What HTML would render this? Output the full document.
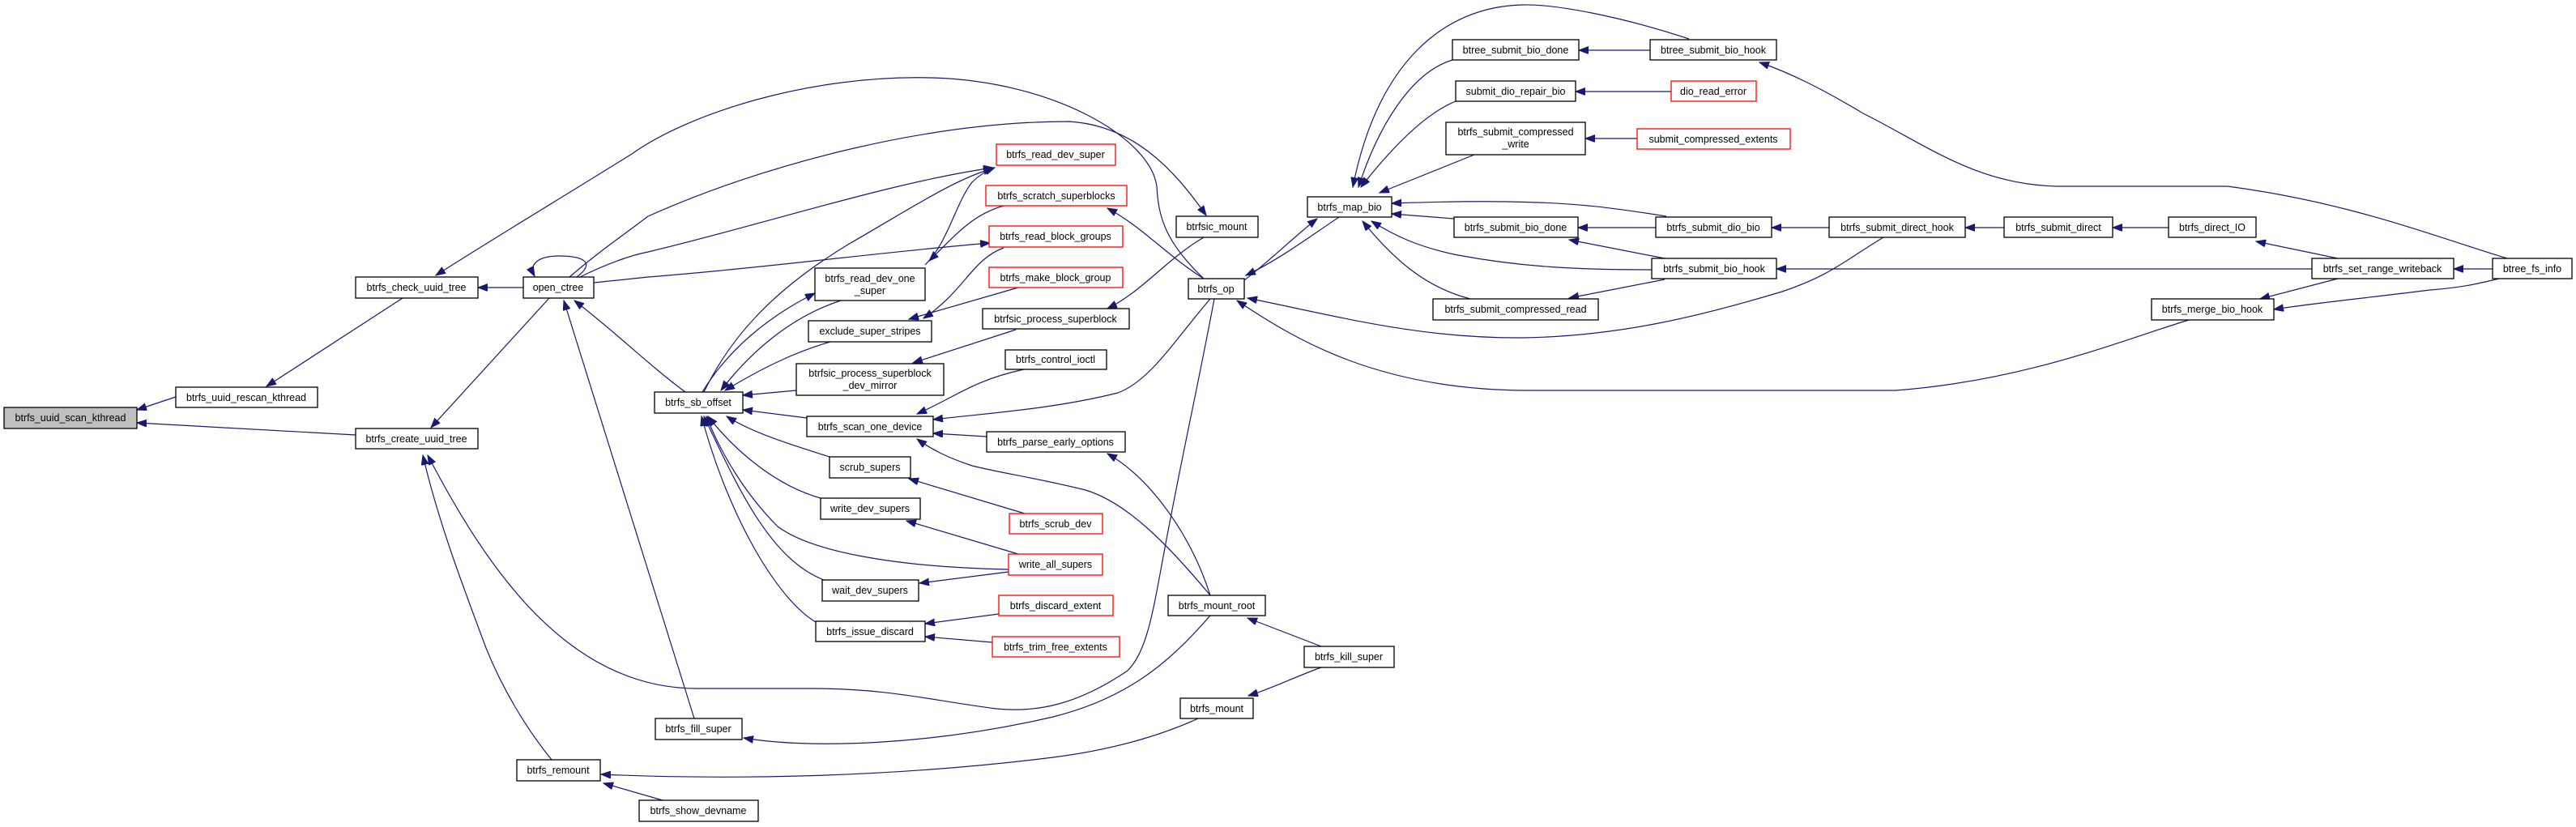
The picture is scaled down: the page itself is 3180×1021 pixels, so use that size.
<!DOCTYPE html>
<html><head><meta charset="utf-8"><style>
html,body{margin:0;padding:0;background:#fff;}
svg{display:block;}
text{font-family:"Liberation Sans",sans-serif;font-size:12.5px;fill:#000;text-anchor:middle;}
.n{fill:#fff;stroke:#000;stroke-width:1.3;}
.r{fill:#fff;stroke:#ff0000;stroke-width:1.3;}
.e{fill:none;stroke:#191970;stroke-width:1.2;marker-end:url(#a);}
</style></head><body>
<svg width="3180" height="1021" viewBox="0 0 3180 1021" xmlns="http://www.w3.org/2000/svg">
<defs><marker id="a" markerUnits="userSpaceOnUse" markerWidth="13" markerHeight="10" refX="12" refY="4.5" orient="auto"><path d="M0,0 L12,4.5 L0,9 z" fill="#191970" stroke="#191970"/></marker></defs>

<!-- edges -->
<path class="e" d="M217,490 L169,506"/>
<path class="e" d="M439,537 L169,522"/>
<path class="e" d="M497,368 L329,477"/>
<path class="e" d="M646,355 L590,355"/>
<path class="e" d="M678,368 L532,528"/>
<path class="e" d="M712,342 C735,325 722,316 690,316 C665,316 652,326 660,341"/>
<path class="e" d="M1486,344 C1440,300 1430,270 1428,230 C1420,170 1300,100 1150,96 C1000,92 850,140 780,190 C700,240 600,300 538,340"/>
<path class="e" d="M703,342 C740,310 770,290 800,267 C950,200 1150,150 1320,150 C1400,155 1450,210 1489,266"/>
<path class="e" d="M716,342 C750,325 780,315 800,311 C950,275 1100,225 1226,207"/>
<path class="e" d="M733,349 L800,342 C950,330 1100,310 1222,300"/>
<path class="e" d="M846,484 C800,450 760,410 709,371"/>
<path class="e" d="M857,887 L696,371"/>
<path class="e" d="M1499,369 C1480,470 1460,560 1445,640 C1425,740 1420,800 1392,828 C1330,870 1280,880 1230,875 C1150,865 1100,850 1000,850 L860,850 C700,850 600,700 528,562"/>
<path class="e" d="M681,938 C650,900 620,850 600,800 C570,720 540,640 522,562"/>
<path class="e" d="M1479,887 C1440,905 1380,925 1300,935 C1100,960 900,963 742,956"/>
<path class="e" d="M818,988 L745,967"/>
<path class="e" d="M1631,824 C1600,835 1570,850 1541,859"/>
<path class="e" d="M1631,798 L1540,763"/>
<path class="e" d="M1494,760 C1450,810 1400,860 1300,885 C1150,920 1000,925 918,911"/>
<path class="e" d="M1494,735 C1440,670 1390,620 1340,605 C1280,590 1240,585 1200,575 C1170,565 1150,555 1132,542"/>
<path class="e" d="M1494,735 C1470,660 1420,590 1367,560"/>
<path class="e" d="M1218,539 L1152,535"/>
<path class="e" d="M1264,456 C1200,470 1180,490 1132,511"/>
<path class="e" d="M1494,369 C1450,420 1420,470 1380,485 C1300,505 1220,510 1152,518"/>
<path class="e" d="M867,484 C900,430 950,390 1006,362"/>
<path class="e" d="M1038,371 C980,390 930,430 890,482"/>
<path class="e" d="M1025,422 C980,435 940,455 895,482"/>
<path class="e" d="M983,482 L917,488"/>
<path class="e" d="M996,516 L917,506"/>
<path class="e" d="M1024,564 C980,550 930,535 897,514"/>
<path class="e" d="M1013,615 C960,600 910,560 874,514"/>
<path class="e" d="M1245,703 C1100,700 1000,680 960,650 C920,610 890,560 872,514"/>
<path class="e" d="M1017,716 C950,690 910,600 869,514"/>
<path class="e" d="M1007,768 C960,740 900,640 866,514"/>
<path class="e" d="M869,484 C900,420 950,360 1050,300 C1120,260 1180,220 1226,208"/>
<path class="e" d="M1142,327 C1170,300 1180,250 1200,225 C1210,215 1220,210 1228,207"/>
<path class="e" d="M1239,254 C1200,265 1180,290 1147,322"/>
<path class="e" d="M1239,306 C1200,320 1190,360 1140,393"/>
<path class="e" d="M1257,355 L1122,394"/>
<path class="e" d="M1254,407 L1127,448"/>
<path class="e" d="M1486,293 C1440,320 1410,360 1367,381"/>
<path class="e" d="M1486,344 C1440,315 1410,280 1367,257"/>
<path class="e" d="M1265,634 L1122,591"/>
<path class="e" d="M1257,684 L1119,643"/>
<path class="e" d="M1245,706 L1135,720"/>
<path class="e" d="M1233,758 L1142,770"/>
<path class="e" d="M1225,793 L1142,786"/>
<path class="e" d="M1536,346 C1570,320 1600,290 1626,270"/>
<path class="e" d="M1653,268 C1620,290 1580,320 1538,340"/>
<path class="e" d="M2325,293 C2280,320 2260,340 2200,360 C2100,390 2000,415 1880,417 C1750,418 1650,390 1540,368"/>
<path class="e" d="M2702,395 C2620,420 2500,470 2340,482 L1880,482 C1700,480 1600,420 1527,371"/>
<path class="e" d="M1793,74 C1740,90 1700,160 1677,231"/>
<path class="e" d="M2085,48 C2000,20 1920,5 1880,6 C1780,8 1700,80 1670,231"/>
<path class="e" d="M1797,125 C1760,140 1720,180 1680,231"/>
<path class="e" d="M1820,191 L1703,238"/>
<path class="e" d="M1795,270 L1718,264"/>
<path class="e" d="M2057,267 C2000,258 1950,250 1860,249 C1800,248 1750,250 1718,251"/>
<path class="e" d="M2039,333 C1950,333 1880,330 1800,315 C1750,305 1720,290 1693,273"/>
<path class="e" d="M1815,369 C1760,355 1720,320 1682,273"/>
<path class="e" d="M2044,281 L1948,281"/>
<path class="e" d="M2055,319 L1937,296"/>
<path class="e" d="M2055,345 L1937,368"/>
<path class="e" d="M2037,62 L1949,62"/>
<path class="e" d="M2063,113 L1945,113"/>
<path class="e" d="M2021,171 L1957,171"/>
<path class="e" d="M2258,281 L2187,281"/>
<path class="e" d="M3095,319 C3000,290 2900,250 2750,230 L2540,230 C2440,228 2380,180 2300,140 C2250,110 2210,90 2172,77"/>
<path class="e" d="M2474,281 L2426,281"/>
<path class="e" d="M2677,281 L2608,281"/>
<path class="e" d="M2886,319 L2785,298"/>
<path class="e" d="M2854,332 L2193,332"/>
<path class="e" d="M3077,332 L3029,332"/>
<path class="e" d="M2886,344 L2790,369"/>
<path class="e" d="M3085,344 C3060,350 3040,355 3000,358 C2920,368 2850,375 2807,382"/>

<!-- nodes -->
<rect x="5" y="503" width="164" height="26" fill="#bfbfbf" stroke="#000" stroke-width="1.3"/><text x="87" y="520">btrfs_uuid_scan_kthread</text>
<rect class="n" x="217" y="478" width="175" height="25"/><text x="304" y="495">btrfs_uuid_rescan_kthread</text>
<rect class="n" x="439" y="342" width="151" height="26"/><text x="514" y="359">btrfs_check_uuid_tree</text>
<rect class="n" x="646" y="342" width="87" height="26"/><text x="689" y="359">open_ctree</text>
<rect class="n" x="439" y="529" width="151" height="25"/><text x="514" y="546">btrfs_create_uuid_tree</text>
<rect class="n" x="638" y="938" width="103" height="26"/><text x="689" y="955">btrfs_remount</text>

<rect class="r" x="1230" y="178" width="147" height="26"/><text x="1303" y="195">btrfs_read_dev_super</text>
<rect class="r" x="1217" y="229" width="174" height="25"/><text x="1304" y="246">btrfs_scratch_superblocks</text>
<rect class="r" x="1221" y="279" width="165" height="26"/><text x="1303" y="296">btrfs_read_block_groups</text>
<rect class="r" x="1221" y="330" width="165" height="25"/><text x="1303" y="347">btrfs_make_block_group</text>
<rect class="n" x="1213" y="381" width="181" height="25"/><text x="1303" y="398">btrfsic_process_superblock</text>
<rect class="n" x="1241" y="432" width="125" height="24"/><text x="1303" y="448">btrfs_control_ioctl</text>
<rect class="n" x="1218" y="533" width="171" height="25"/><text x="1303" y="550">btrfs_parse_early_options</text>
<rect class="r" x="1246" y="634" width="115" height="25"/><text x="1303" y="651">btrfs_scrub_dev</text>
<rect class="r" x="1245" y="684" width="116" height="26"/><text x="1303" y="701">write_all_supers</text>
<rect class="r" x="1233" y="735" width="141" height="25"/><text x="1303" y="752">btrfs_discard_extent</text>
<rect class="r" x="1225" y="786" width="157" height="25"/><text x="1303" y="803">btrfs_trim_free_extents</text>
<rect class="n" x="1006" y="331" width="136" height="40"/><text x="1074" y="348">btrfs_read_dev_one</text><text x="1074" y="363">_super</text>
<rect class="n" x="998" y="396" width="152" height="26"/><text x="1074" y="413">exclude_super_stripes</text>
<rect class="n" x="983" y="449" width="182" height="39"/><text x="1074" y="465">btrfsic_process_superblock</text><text x="1074" y="480">_dev_mirror</text>
<rect class="n" x="808" y="484" width="109" height="26"/><text x="862" y="501">btrfs_sb_offset</text>
<rect class="n" x="996" y="514" width="156" height="25"/><text x="1074" y="531">btrfs_scan_one_device</text>
<rect class="n" x="1024" y="564" width="100" height="26"/><text x="1074" y="581">scrub_supers</text>
<rect class="n" x="1013" y="615" width="123" height="26"/><text x="1074" y="632">write_dev_supers</text>
<rect class="n" x="1015" y="716" width="119" height="26"/><text x="1074" y="733">wait_dev_supers</text>
<rect class="n" x="1007" y="767" width="135" height="25"/><text x="1074" y="784">btrfs_issue_discard</text>
<rect class="n" x="809" y="887" width="107" height="26"/><text x="862" y="904">btrfs_fill_super</text>
<rect class="n" x="789" y="988" width="147" height="26"/><text x="862" y="1005">btrfs_show_devname</text>
<rect class="n" x="1452" y="267" width="101" height="26"/><text x="1502" y="284">btrfsic_mount</text>
<rect class="n" x="1467" y="344" width="69" height="25"/><text x="1501" y="361">btrfs_op</text>
<rect class="n" x="1442" y="735" width="120" height="25"/><text x="1502" y="752">btrfs_mount_root</text>
<rect class="n" x="1457" y="862" width="90" height="25"/><text x="1502" y="879">btrfs_mount</text>

<rect class="n" x="1614" y="243" width="104" height="25"/><text x="1666" y="260">btrfs_map_bio</text>
<rect class="n" x="1793" y="49" width="156" height="25"/><text x="1871" y="66">btree_submit_bio_done</text>
<rect class="n" x="2037" y="49" width="156" height="25"/><text x="2115" y="66">btree_submit_bio_hook</text>
<rect class="n" x="1797" y="100" width="148" height="25"/><text x="1871" y="117">submit_dio_repair_bio</text>
<rect class="r" x="2063" y="100" width="105" height="25"/><text x="2115" y="117">dio_read_error</text>
<rect class="n" x="1785" y="151" width="172" height="40"/><text x="1871" y="167">btrfs_submit_compressed</text><text x="1871" y="182">_write</text>
<rect class="r" x="2021" y="159" width="189" height="25"/><text x="2115" y="176">submit_compressed_extents</text>
<rect class="n" x="1795" y="268" width="153" height="25"/><text x="1871" y="285">btrfs_submit_bio_done</text>
<rect class="n" x="2044" y="268" width="143" height="25"/><text x="2115" y="285">btrfs_submit_dio_bio</text>
<rect class="n" x="2258" y="268" width="168" height="25"/><text x="2342" y="285">btrfs_submit_direct_hook</text>
<rect class="n" x="2039" y="319" width="154" height="25"/><text x="2116" y="336">btrfs_submit_bio_hook</text>
<rect class="n" x="1769" y="369" width="204" height="26"/><text x="1871" y="386">btrfs_submit_compressed_read</text>
<rect class="n" x="1610" y="798" width="111" height="26"/><text x="1665" y="815">btrfs_kill_super</text>
<rect class="n" x="2474" y="268" width="134" height="25"/><text x="2541" y="285">btrfs_submit_direct</text>
<rect class="n" x="2677" y="268" width="108" height="25"/><text x="2731" y="285">btrfs_direct_IO</text>
<rect class="n" x="2854" y="319" width="175" height="25"/><text x="2941" y="336">btrfs_set_range_writeback</text>
<rect class="n" x="3077" y="319" width="98" height="25"/><text x="3126" y="336">btree_fs_info</text>
<rect class="n" x="2656" y="369" width="151" height="26"/><text x="2731" y="386">btrfs_merge_bio_hook</text>
</svg>
</body></html>
